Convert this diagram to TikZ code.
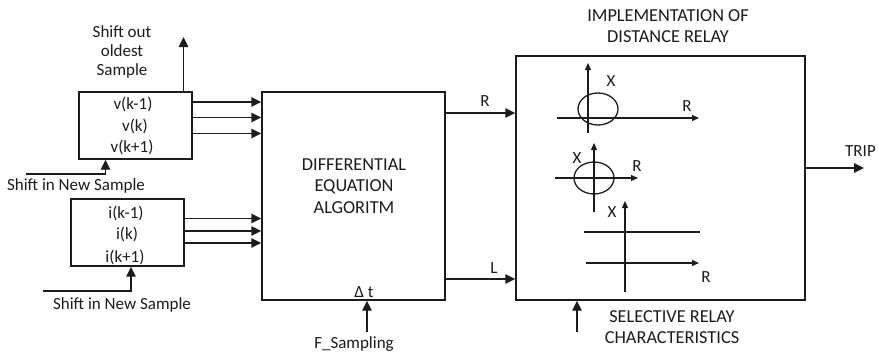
\documentclass[tikz,border=0pt]{standalone}
\usepackage{fontspec}
\setmainfont{Carlito}
\usetikzlibrary{arrows.meta}
\definecolor{ink}{HTML}{1C1C1C}
\tikzset{
 blk/.style={draw=ink,line width=1.4pt,inner sep=0pt,minimum width=#1},
 wire/.style={draw=ink,line width=1.4pt,-{Triangle[length=10pt,width=9.5pt]}},
 axis/.style={draw=ink,line width=1.2pt,-{Triangle[length=7pt,width=6pt]}},
 plain/.style={draw=ink,line width=1.3pt},
 lbl/.style={text=ink,font=\fontsize{17pt}{19pt}\selectfont,inner sep=0pt,anchor=center,yshift=-1pt},
 caplbl/.style={text=ink,font=\fontsize{18.3pt}{20pt}\selectfont,inner sep=0pt,anchor=center,yshift=-1pt},
}
\begin{document}
\begin{tikzpicture}[x=1pt,y=-1pt]
\useasboundingbox (0,0) rectangle (879,356);
% boxes
\node[blk=113pt,minimum height=67pt] (vbox) at (135.5,125.5) {};
\node[blk=113pt,minimum height=67pt] (ibox) at (127.5,232.5) {};
\node[blk=183pt,minimum height=208pt] (diff) at (353.5,196) {};
\node[blk=289pt,minimum height=244pt] (relay) at (660.5,178) {};
% labels
\node[lbl] (t1) at (122,31) {Shift out};
\node[lbl] (t2) at (122,50) {oldest};
\node[lbl] (t3) at (122,70) {Sample};
\node[lbl] (v1) at (133,103) {v(k-1)};
\node[lbl] (v2) at (135,125) {v(k)};
\node[lbl] (v3) at (132,146) {v(k+1)};
\node[lbl] (s1) at (76,185) {Shift in New Sample};
\node[lbl] (i1) at (126,212) {i(k-1)};
\node[lbl] (i2) at (127,233) {i(k)};
\node[lbl] (i3) at (125,256) {i(k+1)};
\node[lbl] (s2) at (122,304) {Shift in New Sample};
\node[caplbl] (d1) at (354,164) {DIFFERENTIAL};
\node[caplbl] (d2) at (354,186) {EQUATION};
\node[caplbl] (d3) at (354,207) {ALGORITM};
\node[lbl] (dt) at (364,291) {Δ t};
\node[lbl] (fs) at (354,343) {F\_Sampling};
\node[lbl] (lr) at (485,100) {R};
\node[lbl] (ll) at (494,267) {L};
\node[caplbl] (im1) at (668,15) {IMPLEMENTATION OF};
\node[caplbl] (im2) at (668,36) {DISTANCE RELAY};
\node[caplbl] (se1) at (672,316) {SELECTIVE RELAY};
\node[caplbl] (se2) at (672,337) {CHARACTERISTICS};
\node[lbl] (trip) at (860.5,150) {TRIP};
\node[lbl] (x1) at (611,80) {X};
\node[lbl] (r1) at (687,105) {R};
\node[lbl] (x2) at (577,157) {X};
\node[lbl] (r2) at (637,165) {R};
\node[lbl] (x3) at (612,211) {X};
\node[lbl] (r3) at (706,276) {R};
% free ends
\coordinate (outtop) at (183.5,37);
\coordinate (in1) at (26,174);
\coordinate (in2) at (43,291);
\coordinate (fsend) at (367,332);
\coordinate (selend) at (577,332);
\coordinate (tripend) at (864,168);
% connectors
\foreach \y in {102,117.5,133.5} \draw[wire] (vbox.east |- 0,\y) -- (diff.west |- 0,\y);
\foreach \y in {218.5,231,243} \draw[wire] (ibox.east |- 0,\y) -- (diff.west |- 0,\y);
\draw[wire] (vbox.north -| outtop) -- (outtop);
\draw[wire] (in1) -| (105.5,0 |- vbox.south);
\draw[wire] (in2) -| (131,0 |- ibox.south);
\draw[wire] (fsend) -- (fsend |- diff.south);
\draw[wire] (selend) -- (selend |- relay.south);
\draw[wire] (diff.east |- 0,113) -- (relay.west |- 0,113);
\draw[wire] (diff.east |- 0,279) -- (relay.west |- 0,279);
\draw[wire] (relay.east |- tripend) -- (tripend);
% characteristics
\draw[axis] (588,133) -- (588,63);
\draw[axis] (557,118) -- (699,118);
\draw[plain] (598,109) ellipse [x radius=20,y radius=16];
\draw[axis] (594,212) -- (594,143);
\draw[axis] (555,178) -- (638,178);
\draw[plain] (594,178) ellipse [x radius=20,y radius=16];
\draw[axis] (625,292) -- (625,201);
\draw[plain] (584,232) -- (700,232);
\draw[axis] (586,263) -- (699,263);
\end{tikzpicture}
\end{document}
